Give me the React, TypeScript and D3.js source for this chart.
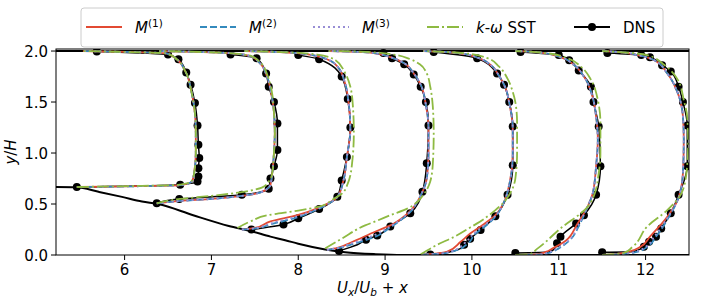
import * as d3 from 'd3'

// ---- data -------------------------------------------------------------
// streamwise stations (x at the wall where each profile starts)
const stations = [5.45, 6.37, 7.35, 8.33, 9.42, 10.5, 11.5]

// lower wall (hill) and upper wall
const hillX = [5.21, 5.45, 5.7, 5.97, 6.2, 6.4, 6.79, 7.2, 7.45, 7.68, 7.85, 8.0, 8.31, 8.54, 8.89, 9.2, 12.5]
const hillY = [0.667, 0.665, 0.62, 0.57, 0.525, 0.497, 0.39, 0.285, 0.235, 0.18, 0.145, 0.11, 0.055, 0.028, 0.008, 0.0, 0.0]
const topWall = 2.0

type Prof = { y: number[]; u: number[] }

const M1: Prof[] = [
  { y: [0.667, 0.67, 0.675, 0.68, 0.685, 0.7, 0.73, 0.8, 1.0, 1.2, 1.39, 1.6, 1.8, 1.92, 1.975, 1.985, 1.993, 2.0],
    u: [0, 0.35, 0.75, 1.05, 1.19, 1.28, 1.33, 1.35, 1.37, 1.37, 1.36, 1.32, 1.25, 1.15, 1.04, 0.85, 0.45, 0.07] },
  { y: [0.507, 0.53, 0.55, 0.575, 0.6, 0.635, 0.69, 0.8, 1.0, 1.2, 1.4, 1.58, 1.75, 1.88, 1.95, 1.98, 1.99, 2.0],
    u: [0, 0.27, 0.63, 0.93, 1.13, 1.25, 1.31, 1.33, 1.35, 1.36, 1.35, 1.32, 1.27, 1.19, 1.08, 0.83, 0.53, 0.03] },
  { y: [0.25, 0.265, 0.33, 0.39, 0.465, 0.57, 0.73, 0.96, 1.23, 1.49, 1.68, 1.85, 1.94, 1.98, 1.995, 2.0],
    u: [0, 0.15, 0.33, 0.64, 0.89, 1.1, 1.17, 1.21, 1.25, 1.23, 1.19, 1.1, 0.91, 0.64, 0.25, 0.03] },
  { y: [0.05, 0.07, 0.12, 0.23, 0.29, 0.4, 0.45, 0.52, 0.62, 0.75, 1.0, 1.25, 1.47, 1.67, 1.78, 1.88, 1.94, 1.985, 1.997, 2.0],
    u: [0, 0.12, 0.27, 0.56, 0.73, 0.92, 0.98, 1.04, 1.1, 1.15, 1.17, 1.17, 1.14, 1.08, 1.0, 0.89, 0.73, 0.5, 0.17, 0.02] },
  { y: [0.005, 0.01, 0.03, 0.13, 0.21, 0.28, 0.39, 0.52, 0.69, 0.98, 1.24, 1.49, 1.63, 1.76, 1.86, 1.93, 1.98, 1.995, 2.0],
    u: [0, 0.13, 0.29, 0.45, 0.56, 0.68, 0.85, 0.95, 1.01, 1.05, 1.05, 1.01, 0.97, 0.89, 0.8, 0.66, 0.43, 0.18, 0.02] },
  { y: [0, 0.005, 0.03, 0.065, 0.14, 0.3, 0.47, 0.6, 0.87, 1.13, 1.36, 1.55, 1.75, 1.86, 1.94, 1.98, 1.997, 2.0],
    u: [0, 0.24, 0.35, 0.43, 0.58, 0.71, 0.83, 0.89, 0.93, 0.95, 0.93, 0.89, 0.79, 0.68, 0.52, 0.33, 0.1, 0] },
  { y: [0, 0.01, 0.03, 0.08, 0.18, 0.375, 0.54, 0.8, 1.13, 1.36, 1.59, 1.78, 1.91, 1.96, 1.99, 2.0],
    u: [0, 0.17, 0.3, 0.44, 0.55, 0.75, 0.87, 0.93, 0.94, 0.93, 0.87, 0.75, 0.6, 0.41, 0.2, 0] },
]

const M2: Prof[] = [
  { y: [0.667, 0.67, 0.675, 0.68, 0.685, 0.7, 0.73, 0.8, 1.0, 1.2, 1.39, 1.6, 1.8, 1.92, 1.975, 1.985, 1.993, 2.0],
    u: [0, 0.35, 0.75, 1.05, 1.19, 1.28, 1.33, 1.35, 1.37, 1.37, 1.36, 1.32, 1.25, 1.15, 1.04, 0.85, 0.45, 0.07] },
  { y: [0.507, 0.53, 0.55, 0.575, 0.6, 0.635, 0.69, 0.8, 1.0, 1.2, 1.4, 1.58, 1.75, 1.88, 1.95, 1.98, 1.99, 2.0],
    u: [0, 0.27, 0.63, 0.93, 1.13, 1.25, 1.31, 1.33, 1.35, 1.36, 1.35, 1.32, 1.27, 1.19, 1.08, 0.83, 0.53, 0.03] },
  { y: [0.25, 0.26, 0.3, 0.37, 0.455, 0.57, 0.73, 0.96, 1.23, 1.49, 1.68, 1.85, 1.94, 1.98, 1.995, 2.0],
    u: [0, 0.15, 0.33, 0.64, 0.89, 1.1, 1.17, 1.21, 1.25, 1.23, 1.19, 1.1, 0.91, 0.64, 0.25, 0.03] },
  { y: [0.05, 0.065, 0.1, 0.18, 0.27, 0.39, 0.44, 0.52, 0.62, 0.75, 1.0, 1.25, 1.47, 1.67, 1.78, 1.88, 1.94, 1.985, 1.997, 2.0],
    u: [0, 0.12, 0.27, 0.56, 0.73, 0.92, 0.98, 1.04, 1.1, 1.15, 1.17, 1.17, 1.14, 1.08, 1.0, 0.89, 0.73, 0.5, 0.17, 0.02] },
  { y: [0.005, 0.01, 0.04, 0.11, 0.21, 0.26, 0.375, 0.52, 0.69, 0.98, 1.24, 1.49, 1.63, 1.76, 1.86, 1.93, 1.98, 1.995, 2.0],
    u: [0, 0.18, 0.38, 0.53, 0.62, 0.7, 0.85, 0.95, 1.01, 1.05, 1.05, 1.01, 0.97, 0.89, 0.8, 0.66, 0.43, 0.18, 0.02] },
  { y: [0, 0.005, 0.03, 0.065, 0.14, 0.3, 0.47, 0.6, 0.87, 1.13, 1.36, 1.55, 1.75, 1.86, 1.94, 1.98, 1.997, 2.0],
    u: [0, 0.3, 0.42, 0.5, 0.62, 0.74, 0.83, 0.89, 0.93, 0.95, 0.93, 0.89, 0.79, 0.68, 0.52, 0.33, 0.1, 0] },
  { y: [0, 0.01, 0.03, 0.08, 0.18, 0.375, 0.54, 0.8, 1.13, 1.36, 1.59, 1.78, 1.91, 1.96, 1.99, 2.0],
    u: [0, 0.25, 0.4, 0.52, 0.62, 0.77, 0.87, 0.93, 0.94, 0.93, 0.87, 0.75, 0.6, 0.41, 0.2, 0] },
]

const M3: Prof[] = [
  { y: [0.667, 0.67, 0.675, 0.68, 0.685, 0.7, 0.73, 0.8, 1.0, 1.2, 1.39, 1.6, 1.8, 1.92, 1.975, 1.985, 1.993, 2.0],
    u: [0, 0.35, 0.75, 1.05, 1.19, 1.28, 1.33, 1.35, 1.37, 1.37, 1.36, 1.32, 1.25, 1.15, 1.04, 0.85, 0.45, 0.07] },
  { y: [0.507, 0.53, 0.55, 0.575, 0.6, 0.635, 0.69, 0.8, 1.0, 1.2, 1.4, 1.58, 1.75, 1.88, 1.95, 1.98, 1.99, 2.0],
    u: [0, 0.27, 0.63, 0.93, 1.13, 1.25, 1.31, 1.33, 1.35, 1.36, 1.35, 1.32, 1.27, 1.19, 1.08, 0.83, 0.53, 0.03] },
  { y: [0.25, 0.262, 0.31, 0.38, 0.46, 0.57, 0.73, 0.96, 1.23, 1.49, 1.68, 1.85, 1.94, 1.98, 1.995, 2.0],
    u: [0, 0.15, 0.33, 0.64, 0.89, 1.1, 1.17, 1.21, 1.25, 1.23, 1.19, 1.1, 0.91, 0.64, 0.25, 0.03] },
  { y: [0.05, 0.067, 0.11, 0.2, 0.28, 0.395, 0.445, 0.52, 0.62, 0.75, 1.0, 1.25, 1.47, 1.67, 1.78, 1.88, 1.94, 1.985, 1.997, 2.0],
    u: [0, 0.12, 0.27, 0.56, 0.73, 0.92, 0.98, 1.04, 1.1, 1.15, 1.17, 1.17, 1.14, 1.08, 1.0, 0.89, 0.73, 0.5, 0.17, 0.02] },
  { y: [0.005, 0.01, 0.035, 0.12, 0.21, 0.27, 0.38, 0.52, 0.69, 0.98, 1.24, 1.49, 1.63, 1.76, 1.86, 1.93, 1.98, 1.995, 2.0],
    u: [0, 0.16, 0.34, 0.5, 0.6, 0.69, 0.85, 0.95, 1.01, 1.05, 1.05, 1.01, 0.97, 0.89, 0.8, 0.66, 0.43, 0.18, 0.02] },
  { y: [0, 0.005, 0.03, 0.065, 0.14, 0.3, 0.47, 0.6, 0.87, 1.13, 1.36, 1.55, 1.75, 1.86, 1.94, 1.98, 1.997, 2.0],
    u: [0, 0.28, 0.4, 0.48, 0.61, 0.73, 0.83, 0.89, 0.93, 0.95, 0.93, 0.89, 0.79, 0.68, 0.52, 0.33, 0.1, 0] },
  { y: [0, 0.01, 0.03, 0.08, 0.18, 0.375, 0.54, 0.8, 1.13, 1.36, 1.59, 1.78, 1.91, 1.96, 1.99, 2.0],
    u: [0, 0.23, 0.37, 0.5, 0.6, 0.76, 0.87, 0.93, 0.94, 0.93, 0.87, 0.75, 0.6, 0.41, 0.2, 0] },
]

const SST: Prof[] = [
  { y: [0.667, 0.672, 0.678, 0.683, 0.69, 0.705, 0.735, 0.8, 1.0, 1.2, 1.39, 1.6, 1.8, 1.92, 1.975, 1.985, 1.993, 2.0],
    u: [0, 0.35, 0.75, 1.05, 1.19, 1.28, 1.33, 1.35, 1.37, 1.37, 1.36, 1.32, 1.25, 1.15, 1.04, 0.85, 0.45, 0.07] },
  { y: [0.507, 0.55, 0.58, 0.62, 0.66, 0.72, 0.8, 1.0, 1.2, 1.4, 1.58, 1.75, 1.88, 1.95, 1.98, 1.99, 2.0],
    u: [0, 0.27, 0.63, 1.0, 1.21, 1.29, 1.33, 1.35, 1.36, 1.35, 1.33, 1.28, 1.2, 1.09, 0.83, 0.53, 0.03] },
  { y: [0.265, 0.33, 0.39, 0.435, 0.475, 0.54, 0.6, 0.7, 0.9, 1.2, 1.45, 1.65, 1.8, 1.91, 1.965, 1.99, 2.0],
    u: [-0.05, 0.1, 0.3, 0.65, 0.89, 1.04, 1.15, 1.22, 1.27, 1.29, 1.28, 1.25, 1.18, 1.08, 0.87, 0.45, 0.03] },
  { y: [0.066, 0.16, 0.29, 0.33, 0.39, 0.46, 0.52, 0.6, 0.72, 0.9, 1.2, 1.45, 1.65, 1.78, 1.87, 1.92, 1.97, 1.995, 2.0],
    u: [-0.02, 0.17, 0.44, 0.56, 0.73, 0.94, 1.04, 1.12, 1.19, 1.22, 1.23, 1.22, 1.19, 1.15, 1.07, 0.96, 0.73, 0.37, 0.02] },
  { y: [0.007, 0.1, 0.18, 0.27, 0.31, 0.44, 0.52, 0.62, 0.75, 1.0, 1.3, 1.5, 1.6, 1.73, 1.85, 1.93, 1.98, 1.995, 2.0],
    u: [-0.01, 0.18, 0.38, 0.56, 0.64, 0.85, 0.95, 1.03, 1.08, 1.1, 1.1, 1.08, 1.05, 0.99, 0.89, 0.76, 0.48, 0.18, 0.02] },
  { y: [0, 0.007, 0.06, 0.26, 0.47, 0.57, 0.8, 1.0, 1.29, 1.52, 1.72, 1.85, 1.93, 1.98, 1.997, 2.0],
    u: [0, 0.16, 0.25, 0.52, 0.83, 0.9, 0.96, 0.98, 0.98, 0.95, 0.87, 0.75, 0.6, 0.35, 0.1, 0] },
  { y: [0, 0.02, 0.08, 0.28, 0.44, 0.6, 0.8, 1.1, 1.35, 1.52, 1.72, 1.86, 1.96, 1.99, 2.0],
    u: [0, 0.25, 0.35, 0.52, 0.75, 0.91, 0.97, 0.99, 0.98, 0.94, 0.87, 0.72, 0.52, 0.2, 0] },
]

// DNS sample points (drawn with markers)
const DNS: Prof[] = [
  { y: [0.667, 0.69, 0.72, 0.77, 0.85, 0.95, 1.08, 1.27, 1.49, 1.67, 1.79, 1.92, 1.965, 1.995],
    u: [0, 1.19, 1.39, 1.4, 1.4, 1.41, 1.4, 1.39, 1.36, 1.31, 1.26, 1.17, 1.05, 0.23] },
  { y: [0.507, 0.55, 0.59, 0.65, 0.75, 0.87, 1.03, 1.29, 1.5, 1.65, 1.78, 1.93, 1.965],
    u: [0, 0.26, 0.98, 1.29, 1.31, 1.35, 1.39, 1.39, 1.35, 1.29, 1.26, 1.15, 0.85] },
  { y: [0.25, 0.3, 0.36, 0.45, 0.57, 0.73, 0.96, 1.25, 1.53, 1.75, 1.92, 1.96],
    u: [0.11, 0.48, 0.65, 0.89, 1.1, 1.15, 1.21, 1.25, 1.22, 1.15, 0.89, 0.65] },
  { y: [0.04, 0.15, 0.19, 0.28, 0.41, 0.62, 0.9, 1.27, 1.5, 1.65, 1.77, 1.87, 1.93, 1.98],
    u: [0.14, 0.45, 0.58, 0.73, 0.96, 1.1, 1.15, 1.17, 1.14, 1.08, 1.0, 0.89, 0.75, 0.65] },
  { y: [0.005, 0.1, 0.16, 0.245, 0.38, 0.59, 0.88, 1.26, 1.5, 1.67, 1.78, 1.93, 1.99],
    u: [0.1, 0.49, 0.56, 0.68, 0.85, 0.99, 1.05, 1.05, 1.01, 0.95, 0.87, 0.64, 0.14] },
  { y: [0.02, 0.115, 0.18, 0.31, 0.39, 0.59, 0.87, 1.26, 1.5, 1.65, 1.81, 1.91, 1.96, 1.99],
    u: [0, 0.48, 0.52, 0.7, 0.79, 0.93, 0.98, 0.96, 0.9, 0.87, 0.73, 0.62, 0.5, 0.06] },
  { y: [0.026, 0.08, 0.13, 0.18, 0.26, 0.41, 0.59, 0.87, 1.27, 1.5, 1.65, 1.8, 1.86, 1.94, 1.96, 1.98],
    u: [0, 0.48, 0.54, 0.62, 0.68, 0.79, 0.88, 0.98, 0.98, 0.93, 0.88, 0.79, 0.69, 0.55, 0.45, 0.06] },
]

// extra DNS line points between markers (near-wall part of the curve)
const DNSLineExtra: Prof[] = [
  { y: [], u: [] },
  { y: [], u: [] },
  { y: [], u: [] },
  { y: [0.07, 0.1], u: [0.25, 0.35] },
  { y: [0.03, 0.06], u: [0.32, 0.44] },
  { y: [0.03, 0.06], u: [0.38, 0.45] },
  { y: [0.035, 0.055], u: [0.36, 0.43] },
]

const xTicks = [6, 7, 8, 9, 10, 11, 12]
const yTicks = [0, 0.5, 1.0, 1.5, 2.0]
const yTickLabels = ['0.0', '0.5', '1.0', '1.5', '2.0']

// ---- layout -------------------------------------------------------------
const W = 706
const H = 300
const FONT = 'DejaVu Sans, sans-serif'
const FS = 15

const x = d3.scaleLinear().domain([5.21, 12.5]).range([56, 689])
const y = d3.scaleLinear().domain([0, 2.02]).range([255, 49])

const line = d3.line<[number, number]>()
  .x(d => x(d[0]))
  .y(d => y(d[1]))
  .curve(d3.curveMonotoneY)

const toPts = (p: Prof, i: number): [number, number][] =>
  p.y.map((yy, k) => [stations[i] + p.u[k], yy])

const COLORS = { m1: '#E24A33', m2: '#348ABD', m3: '#988ED5', sst: '#8EBA42', dns: '#000000' }

const series = [
  { key: 'm1', data: M1, color: COLORS.m1, dash: undefined as string | undefined },
  { key: 'm2', data: M2, color: COLORS.m2, dash: '7,3' },
  { key: 'm3', data: M3, color: COLORS.m3, dash: '2,3' },
  { key: 'sst', data: SST, color: COLORS.sst, dash: '12,3,2,3' },
]

function Legend() {
  const ly = 27
  const items = [
    { x0: 86, color: COLORS.m1, dash: undefined as string | undefined, label: 'm1' },
    { x0: 200, color: COLORS.m2, dash: '7,3', label: 'm2' },
    { x0: 313, color: COLORS.m3, dash: '2,3', label: 'm3' },
    { x0: 427, color: COLORS.sst, dash: '12,3,2,3', label: 'sst' },
    { x0: 574, color: COLORS.dns, dash: undefined, label: 'dns' },
  ]
  const text = (key: string, tx: number) => {
    const base = { x: tx, y: ly + 5.5, fontSize: FS, fontFamily: FONT, fill: '#000' }
    if (key.startsWith('m')) {
      const n = key.slice(1)
      return (
        <text {...base}>
          <tspan fontStyle="italic">M</tspan>
          <tspan fontSize={10.5} dy={-6}>({n})</tspan>
        </text>
      )
    }
    if (key === 'sst') {
      return (
        <text {...base}>
          <tspan fontStyle="italic">k</tspan>-<tspan fontStyle="italic">ω</tspan> SST
        </text>
      )
    }
    return <text {...base}>DNS</text>
  }
  return (
    <g>
      <rect x={81} y={8} width={582} height={39} rx={3} fill="#fff" fillOpacity={0.8} stroke="#cccccc" strokeWidth={1} />
      {items.map(it => (
        <g key={it.label}>
          <line x1={it.x0} x2={it.x0 + 36} y1={ly} y2={ly} stroke={it.color} strokeWidth={2} strokeDasharray={it.dash} />
          {it.label === 'dns' && <circle cx={it.x0 + 18} cy={ly} r={4} fill="#000" />}
          {text(it.label, it.x0 + 49)}
        </g>
      ))}
    </g>
  )
}

export default function App() {
  const hillPts: [number, number][] = hillX.map((hx, i) => [hx, hillY[i]])
  const hillLine = d3.line<[number, number]>().x(d => x(d[0])).y(d => y(d[1])).curve(d3.curveMonotoneX)
  const [x0, x1] = x.range()
  const [yb, yt] = y.range()

  return (
    <div style={{ position: 'absolute', left: 0, top: 0 }}>
      <svg width={W} height={H} style={{ display: 'block', background: '#fff' }}>
        <defs>
          <clipPath id="plot">
            <rect x={x0} y={yt} width={x1 - x0} height={yb - yt} />
          </clipPath>
        </defs>

        <g clipPath="url(#plot)">
          {/* walls */}
          <path d={hillLine(hillPts) ?? ''} fill="none" stroke="#000" strokeWidth={2} />
          <line x1={x0} x2={x1} y1={y(topWall)} y2={y(topWall)} stroke="#000" strokeWidth={2} />

          {/* DNS */}
          {DNS.map((p, i) => {
            const pts = toPts(p, i)
            const linePts = pts.concat(toPts(DNSLineExtra[i], i)).sort((a, b) => a[1] - b[1])
            return (
              <g key={'dns' + i}>
                <path d={line(linePts) ?? ''} fill="none" stroke="#000" strokeWidth={1.5} />
                {pts.map((d, k) => (
                  <circle key={k} cx={x(d[0])} cy={y(d[1])} r={4} fill="#000" />
                ))}
              </g>
            )
          })}

          {/* models */}
          {series.map(s => s.data.map((p, i) => (
            <path key={s.key + i} d={line(toPts(p, i)) ?? ''} fill="none" stroke={s.color}
              strokeWidth={1.8} strokeDasharray={s.dash} />
          )))}
        </g>

        {/* frame */}
        <rect x={x0} y={yt} width={x1 - x0} height={yb - yt} fill="none" stroke="#000" strokeWidth={1} />

        {/* x axis */}
        {xTicks.map(t => (
          <g key={'xt' + t}>
            <line x1={x(t)} x2={x(t)} y1={yb} y2={yb + 5} stroke="#000" strokeWidth={1} />
            <text x={x(t)} y={yb + 20} textAnchor="middle" fontSize={FS} fontFamily={FONT}>{t}</text>
          </g>
        ))}
        {/* y axis */}
        {yTicks.map((t, i) => (
          <g key={'yt' + t}>
            <line x1={x0 - 5} x2={x0} y1={y(t)} y2={y(t)} stroke="#000" strokeWidth={1} />
            <text x={x0 - 8} y={y(t) + 5.5} textAnchor="end" fontSize={FS} fontFamily={FONT}>{yTickLabels[i]}</text>
          </g>
        ))}

        {/* axis labels */}
        <text x={(x0 + x1) / 2} y={293} textAnchor="middle" fontSize={FS} fontFamily={FONT}>
          <tspan fontStyle="italic">U</tspan>
          <tspan fontStyle="italic" fontSize={10.5} dy={3}>x</tspan>
          <tspan dy={-3}>/</tspan>
          <tspan fontStyle="italic">U</tspan>
          <tspan fontStyle="italic" fontSize={10.5} dy={3}>b</tspan>
          <tspan dy={-3}> + </tspan>
          <tspan fontStyle="italic">x</tspan>
        </text>
        <text transform={`translate(16,${(yb + yt) / 2}) rotate(-90)`} textAnchor="middle" fontSize={FS} fontFamily={FONT}>
          <tspan fontStyle="italic">y</tspan>/<tspan fontStyle="italic">H</tspan>
        </text>

        <Legend />
      </svg>
    </div>
  )
}
